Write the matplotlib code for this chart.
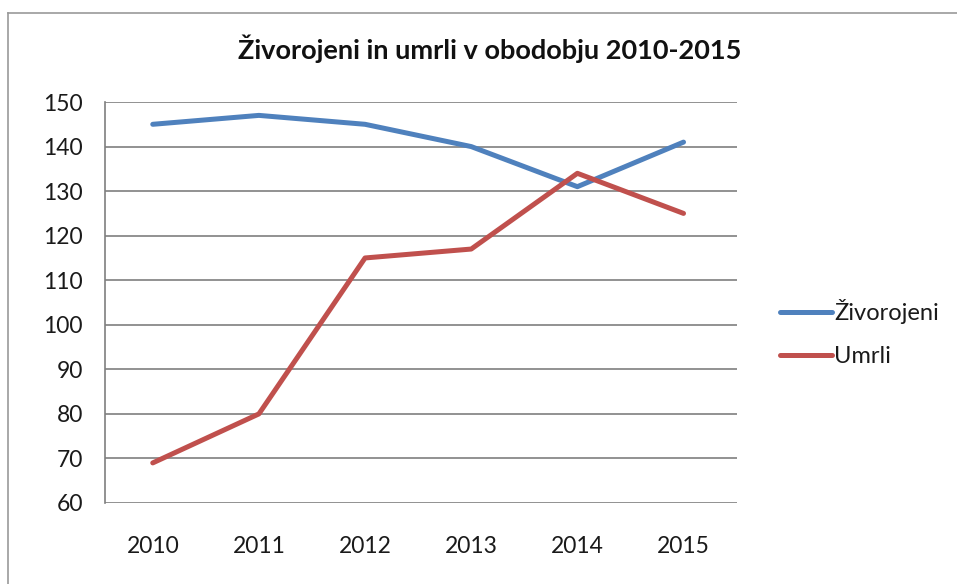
import matplotlib
matplotlib.use("Agg")
import matplotlib.pyplot as plt
from matplotlib.lines import Line2D

YEARS = ["2010", "2011", "2012", "2013", "2014", "2015"]
ZIVOROJENI = [145, 147, 145, 140, 131, 141]
UMRLI = [69, 80, 115, 117, 134, 125]
Y_TICKS = [60, 70, 80, 90, 100, 110, 120, 130, 140, 150]

plt.rcParams["font.family"] = ["Lato", "DejaVu Sans"]

fig = plt.figure(figsize=(9.57, 5.84), dpi=100)
ax = fig.add_axes([0.1097, 0.1387, 0.660, 0.6866])

x = list(range(len(YEARS)))
ax.plot(x, ZIVOROJENI, color="#4F81BD", lw=3.6, label="Živorojeni", solid_capstyle="round")
ax.plot(x, UMRLI, color="#C0504D", lw=3.6, label="Umrli", solid_capstyle="round")

ax.set_xlim(-0.45, 5.5)
ax.set_ylim(60, 150)
ax.set_xticks(x)
ax.set_xticklabels(YEARS)
ax.set_yticks(Y_TICKS)
ax.tick_params(axis="both", length=0, labelsize=16.5, colors="#1a1a1a")
ax.tick_params(axis="x", pad=24)
ax.tick_params(axis="y", pad=16)
ax.grid(axis="y", color="#7f7f7f", lw=1.2)
ax.set_axisbelow(True)
for side in ["top", "right", "bottom"]:
    ax.spines[side].set_visible(False)
ax.spines["left"].set_color("#7f7f7f")
ax.spines["left"].set_linewidth(1.2)

fig.text(0.512, 0.917, "Živorojeni in umrli v obodobju 2010-2015",
         ha="center", va="center", fontsize=19.5, fontweight="bold", color="#111111")

leg = ax.legend(loc="center left", bbox_to_anchor=(1.035, 0.424), frameon=False, fontsize=17,
                handlelength=2.2, handletextpad=0.1, labelspacing=0.95)
for t in leg.get_texts():
    t.set_color("#1a1a1a")

# scanned frame of the chart
fig.add_artist(Line2D([0.008, 1.0], [0.977, 0.977], color="#999999", lw=1.2))
fig.add_artist(Line2D([0.008, 0.008], [0.0, 0.977], color="#999999", lw=1.2))

fig.savefig("out.png", dpi=100, facecolor="white")
